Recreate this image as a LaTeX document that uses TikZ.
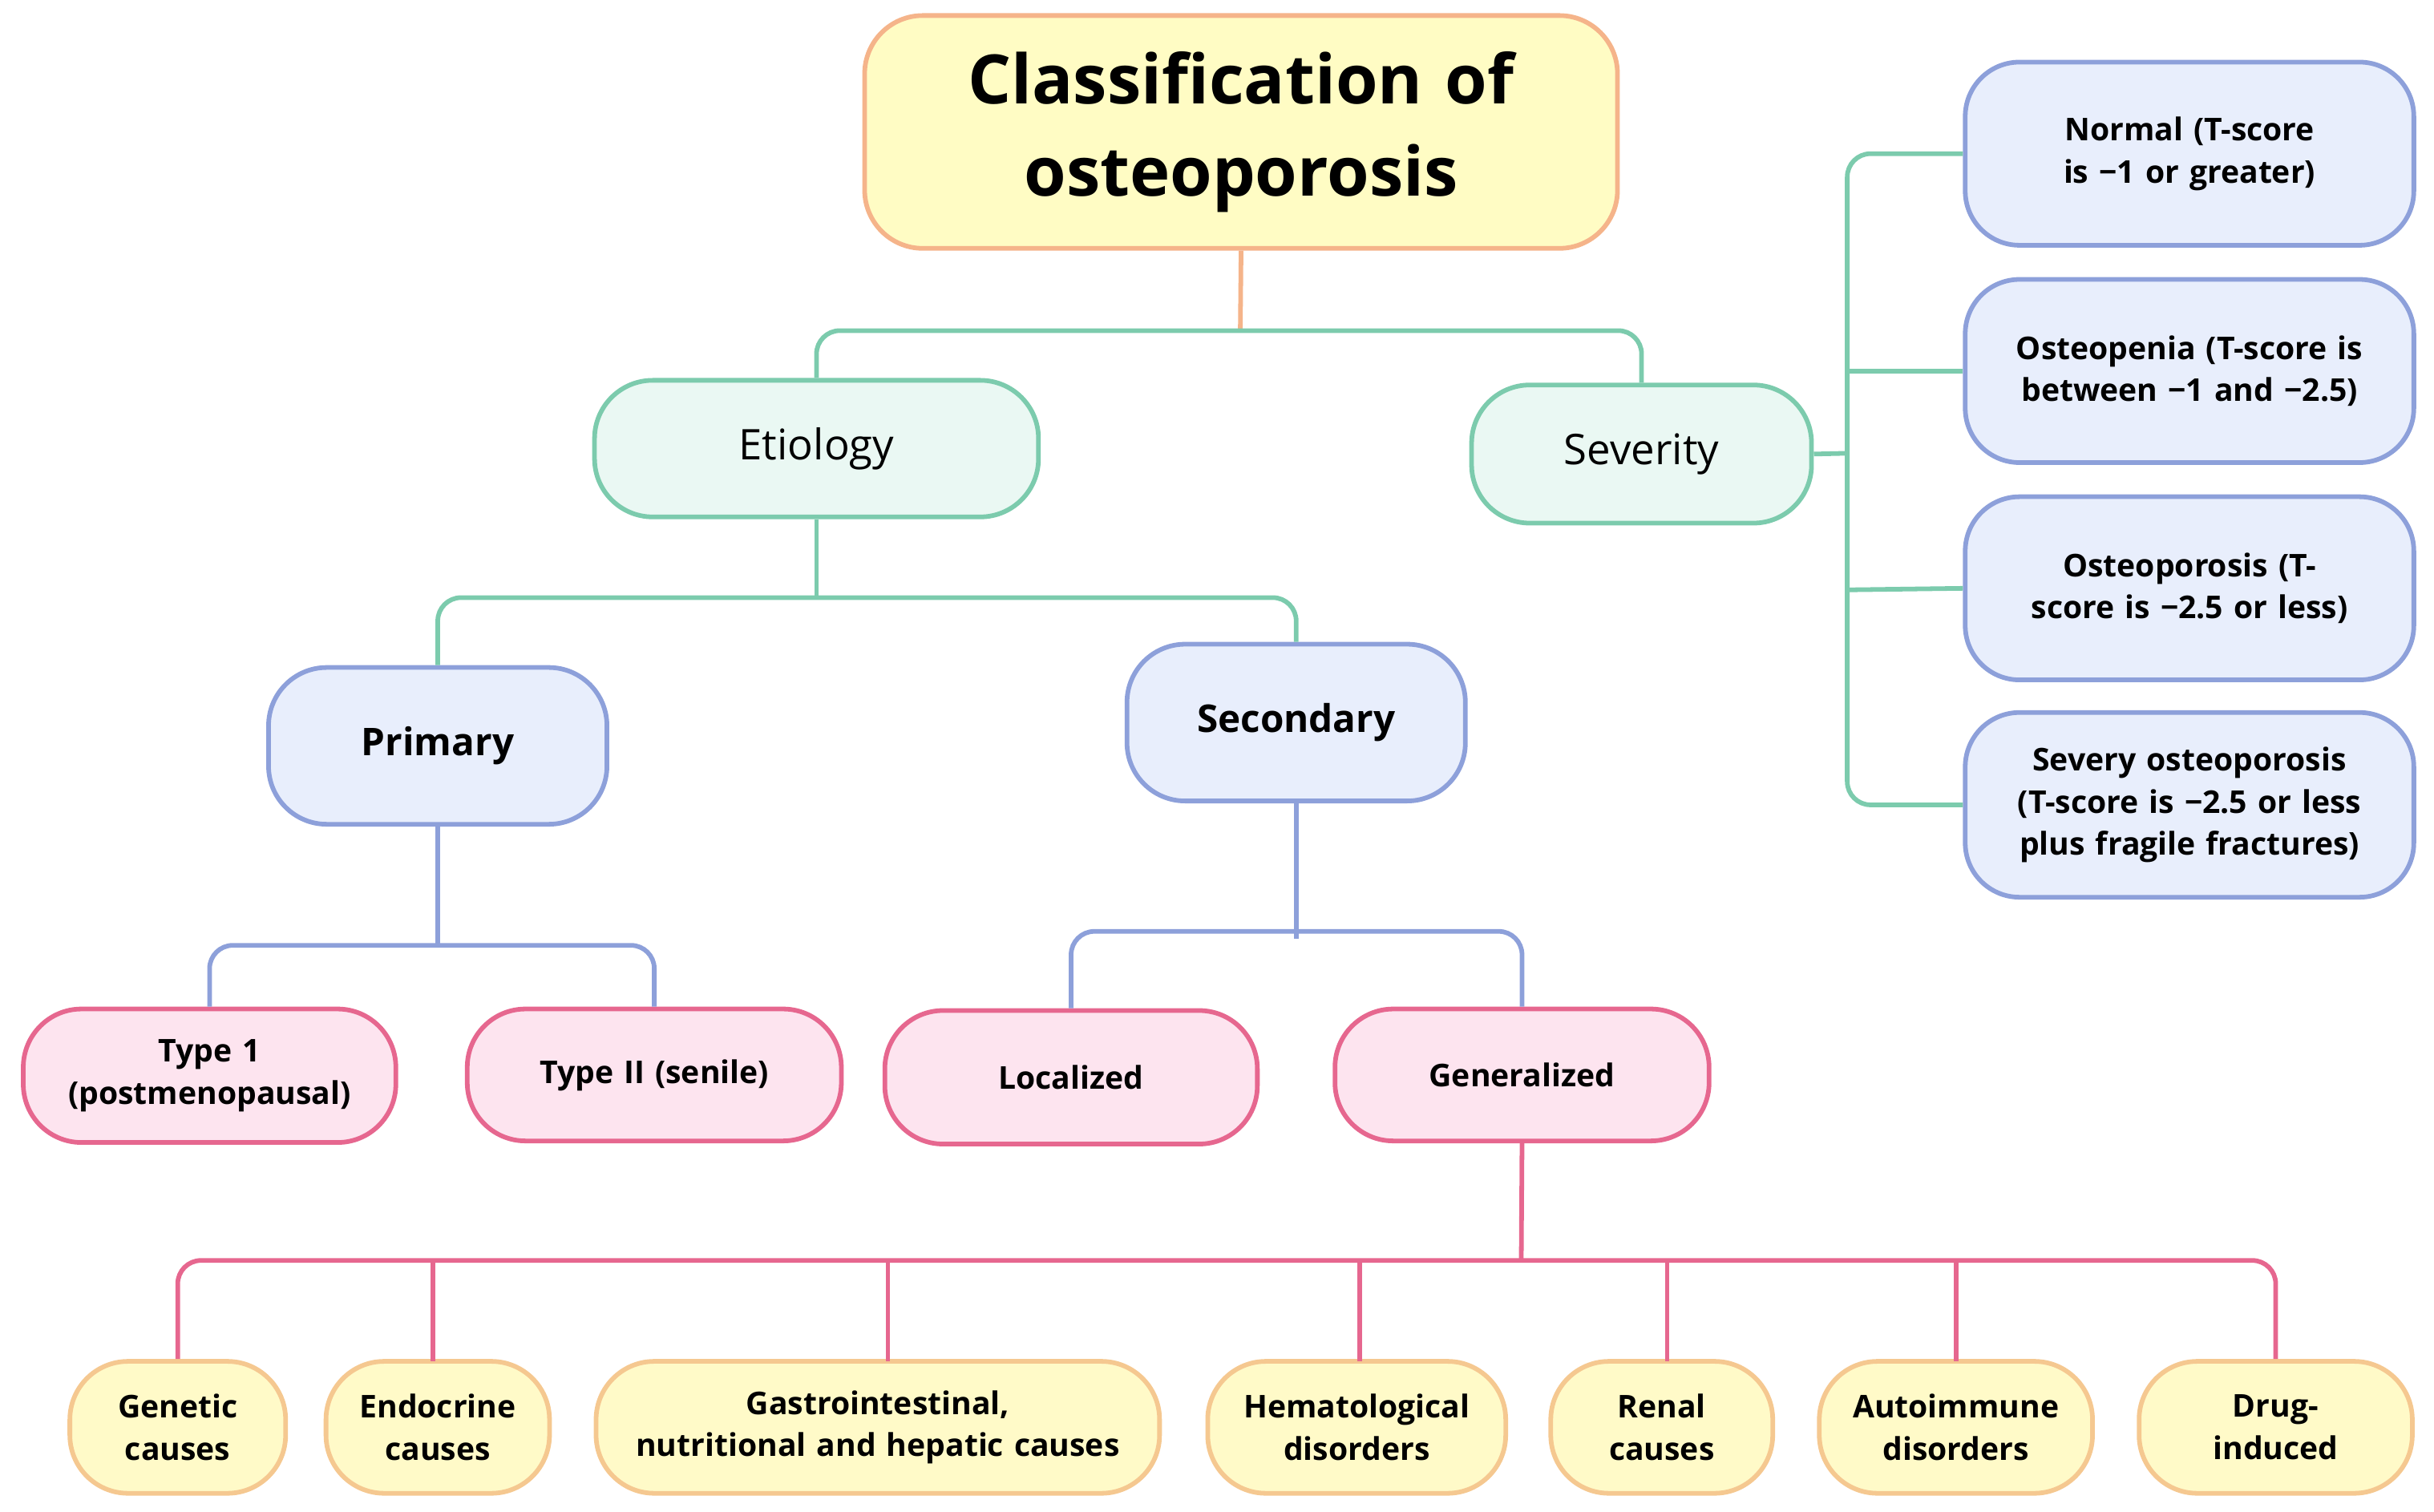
\documentclass[tikz,border=0pt]{standalone}
\usepackage{fontspec}
\setmainfont{Open Sans}
\begin{document}
\definecolor{tfill}{HTML}{FFFCC4}\definecolor{tline}{HTML}{F5B48A}
\definecolor{gfill}{HTML}{EAF8F3}\definecolor{gline}{HTML}{7CCBAD}
\definecolor{bfill}{HTML}{E8EEFC}\definecolor{bline}{HTML}{8DA0DA}
\definecolor{pfill}{HTML}{FDE4EF}\definecolor{pline}{HTML}{E6678F}
\definecolor{yfill}{HTML}{FFFAC8}\definecolor{yline}{HTML}{F5C890}
\newcommand\bx[7]{\node[#1,minimum width={(#5-#3)*0.02cm},minimum height={(#6-#4)*0.02cm},text width={(#5-#3)*0.02cm-0.3cm}] (#2) at ({(#3+#5)/2},{(#4+#6)/2}) {#7};}
\begin{tikzpicture}[x=0.02cm,y=-0.02cm,
 box/.style={draw,line width=1.7pt,align=center,inner sep=0pt,rounded corners=0.75cm,font=\bfseries\fontsize{11.5}{15.5}\selectfont},
 ti/.style={box,fill=tfill,draw=tline,font=\bfseries\fontsize{25}{34}\selectfont},
 gb/.style={box,fill=gfill,draw=gline,font=\fontsize{15.5}{19}\selectfont},
 bb/.style={box,fill=bfill,draw=bline,font=\bfseries\fontsize{14}{18}\selectfont},
 rb/.style={box,fill=bfill,draw=bline,rounded corners=0.7cm},
 pb/.style={box,fill=pfill,draw=pline},
 yb/.style={box,fill=yfill,draw=yline},
 ln/.style={line width=1.7pt,rounded corners=0.3cm}]
\useasboundingbox (0,0) rectangle (1568,974);
\bx{ti}{title}{557}{10}{1042}{160}{Classification of\\osteoporosis}
\bx{gb}{etio}{383}{245}{669}{333}{Etiology}
\bx{gb}{sev}{948}{248}{1167}{337}{Severity}
\bx{rb}{r1}{1266}{40}{1555}{158}{Normal (T-score is −1 or greater)}
\bx{rb}{r2}{1266}{180}{1555}{298}{Osteopenia (T-score is between −1 and −2.5)}
\bx{rb}{r3}{1266}{320}{1555}{438}{Osteoporosis (T-score is −2.5 or less)}
\bx{rb}{r4}{1266}{459}{1555}{578}{Severy osteoporosis (T-score is −2.5 or less plus fragile fractures)}
\bx{bb}{prim}{173}{430}{391}{531}{Primary}
\bx{bb}{sec}{726}{415}{944}{516}{Secondary}
\bx{pb}{t1}{15}{650}{255}{736}{Type 1\\(postmenopausal)}
\bx{pb}{t2}{301}{650}{542}{735}{Type II (senile)}
\bx{pb}{loc}{570}{651}{810}{737}{Localized}
\bx{pb}{gen}{860}{650}{1101}{735}{Generalized}
\bx{yb}{c1}{45}{877}{184}{962}{Genetic\\causes}
\bx{yb}{c2}{210}{877}{354}{962}{Endocrine\\causes}
\bx{yb}{c3}{384}{877}{747}{962}{Gastrointestinal,\\nutritional and hepatic causes}
\bx{yb}{c4}{778}{877}{970}{962}{Hematological\\disorders}
\bx{yb}{c5}{999}{877}{1142}{962}{Renal\\causes}
\bx{yb}{c6}{1172}{877}{1348}{962}{Autoimmune\\disorders}
\bx{yb}{c7}{1378}{877}{1554}{962}{Drug-\\induced}
% title
\coordinate (j0) at (799,213);
\draw[ln,tline] (title.south) -- (j0);
\draw[ln,gline] (etio.north) |- (j0) -| (sev.north);
% severity
\coordinate (sv) at (1190,292);
\draw[ln,gline] (sev.east) -- (sv);
\draw[ln,gline] (r1.west) -| (1190,292) |- (r4.west);
\draw[ln,gline] (r2.west) -- (1190,239);
\draw[ln,gline] (r3.west) -- (1190,380);
% etiology
\coordinate (j1) at (526,385);
\draw[ln,gline] (etio.south) -- (j1);
\draw[ln,gline] (prim.north) |- (j1) -| (sec.north);
\coordinate (j2) at (282,609);
\draw[ln,bline] (prim.south) -- (j2);
\draw[ln,bline] (t1.north) |- (j2) -| (t2.north);
\coordinate (j3) at (835,600);
\draw[ln,bline] (sec.south) -- (835,605);
\draw[ln,bline] (loc.north) |- (j3) -| (gen.north);
\coordinate (j4) at (980,812);
\draw[ln,pline] (gen.south) -- (j4);
\draw[ln,pline] (c1.north) |- (j4) -| (c7.north);
\foreach \x/\n in {279/c2,572/c3,876/c4,1074/c5,1260/c6}
  \draw[ln,pline] (\x,812) -- (\x,877);
\end{tikzpicture}
\end{document}
